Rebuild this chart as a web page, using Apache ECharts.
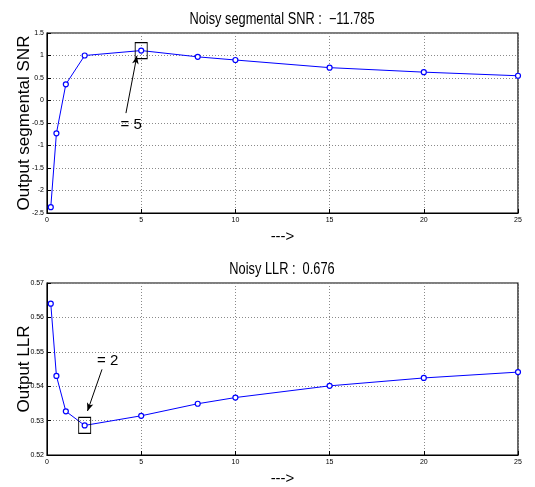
<!DOCTYPE html>
<html>
<head>
<meta charset="utf-8">
<script src="https://cdn.jsdelivr.net/npm/echarts@6/dist/echarts.min.js"></script>
<style>
  html, body { margin: 0; padding: 0; background: #fff; }
  #chart { width: 535px; height: 487px; }
</style>
</head>
<body>
<div id="chart"></div>
<script>
// x positions (shared by both panels)
var xValues = [0.2, 0.5, 1, 2, 5, 8, 10, 15, 20, 25];
// output segmental SNR
var snrValues = [-2.37, -0.73, 0.36, 1.0, 1.11, 0.97, 0.90, 0.73, 0.63, 0.55];
// output LLR
var llrValues = [0.5640, 0.5430, 0.5327, 0.5286, 0.5314, 0.5349, 0.5367, 0.5401, 0.5424, 0.5441];

var snrTitle = 'Noisy segmental SNR :  \u221211.785';
var llrTitle = 'Noisy LLR :  0.676';

// annotations: picked point, arrow start/end, label text and position
var snrPick = 4;
var snrArrow = [[4.19, -0.28], [4.77, 0.99]];
var snrNote = { text: '= 5', at: [4.47, -0.54] };
var llrPick = 3;
var llrArrow = [[2.92, 0.5449], [2.15, 0.5328]];
var llrNote = { text: '= 2', at: [3.22, 0.5475] };

function pairs(xs, ys) {
    return xs.map(function (x, i) { return [x, ys[i]]; });
}

var FONT = 'Liberation Sans, Arial, sans-serif';

function xAxisCfg(idx) {
    return {
        gridIndex: idx, type: 'value', min: 0, max: 25, interval: 5,
        name: '--->', nameLocation: 'middle', nameGap: 16, nameMoveOverlap: false,
        nameTextStyle: { fontFamily: FONT, fontSize: 15, color: '#000' },
        axisLine: { show: true, onZero: false, lineStyle: { color: '#000', width: 1 } },
        axisTick: { inside: true, length: 4, lineStyle: { color: '#000' } },
        axisLabel: { fontSize: 7, color: '#000', margin: 4, fontFamily: FONT },
        splitLine: { show: true, lineStyle: { color: '#8a8a8a', type: [1, 2], width: 1 } }
    };
}

function yAxisCfg(idx, name, min, max, interval) {
    return {
        gridIndex: idx, type: 'value', min: min, max: max, interval: interval,
        name: name, nameLocation: 'middle', nameGap: 14, nameMoveOverlap: false,
        nameTextStyle: { fontFamily: FONT, fontSize: 17, color: '#000' },
        axisLine: { show: true, onZero: false, lineStyle: { color: '#000', width: 1 } },
        axisTick: { inside: true, length: 4, lineStyle: { color: '#000' } },
        axisLabel: { fontSize: 7, color: '#000', margin: 3, fontFamily: FONT },
        splitLine: { show: true, lineStyle: { color: '#8a8a8a', type: [1, 2], width: 1 } }
    };
}

function seriesCfg(idx, ys, pick, arrow, note) {
    return {
        type: 'line', xAxisIndex: idx, yAxisIndex: idx,
        data: pairs(xValues, ys),
        symbol: 'circle', symbolSize: 5, showSymbol: true,
        lineStyle: { color: '#0000ff', width: 1 },
        itemStyle: { color: '#ffffff', borderColor: '#0000ff', borderWidth: 1.2 },
        animation: false,
        markPoint: {
            silent: true,
            data: [
                {
                    coord: [xValues[pick], ys[pick]], symbol: 'rect', symbolSize: [12, 16],
                    itemStyle: { color: 'rgba(0,0,0,0)', borderColor: '#000', borderWidth: 1 },
                    label: { show: false }
                },
                {
                    coord: note.at, symbol: 'rect', symbolSize: 1,
                    itemStyle: { color: 'rgba(0,0,0,0)' },
                    label: {
                        show: true, position: 'inside', formatter: note.text,
                        fontFamily: FONT, fontSize: 15, color: '#000'
                    }
                }
            ]
        },
        markLine: {
            silent: true, symbol: ['none', 'arrow'], symbolSize: [5, 8],
            label: { show: false },
            lineStyle: { color: '#000', width: 1, type: 'solid' },
            data: [[{ coord: arrow[0] }, { coord: arrow[1] }]]
        }
    };
}

// condensed title text, like the original plot's narrow font
function titleText(text, y) {
    return {
        type: 'text', x: 282, y: y, scaleX: 0.8, silent: true,
        style: { text: text, font: '16px ' + FONT, fill: '#000', textAlign: 'center', textVerticalAlign: 'middle' }
    };
}

var myChart = echarts.init(document.getElementById('chart'), null, { renderer: 'canvas' });
var option = {
    backgroundColor: '#fff',
    animation: false,
    graphic: [titleText(snrTitle, 20), titleText(llrTitle, 270)],
    grid: [
        { left: 47, right: 17, top: 33, height: 180, show: true, borderColor: '#000', borderWidth: 1.2, backgroundColor: '#fff' },
        { left: 47, right: 17, top: 283, height: 180, show: true, borderColor: '#000', borderWidth: 1.2, backgroundColor: '#fff' }
    ],
    xAxis: [xAxisCfg(0), xAxisCfg(1)],
    yAxis: [
        yAxisCfg(0, 'Output segmental SNR', -2.5, 1.5, 0.5),
        yAxisCfg(1, 'Output LLR', 0.52, 0.57, 0.01)
    ],
    series: [
        seriesCfg(0, snrValues, snrPick, snrArrow, snrNote),
        seriesCfg(1, llrValues, llrPick, llrArrow, llrNote)
    ]
};
myChart.setOption(option);
</script>
</body>
</html>
